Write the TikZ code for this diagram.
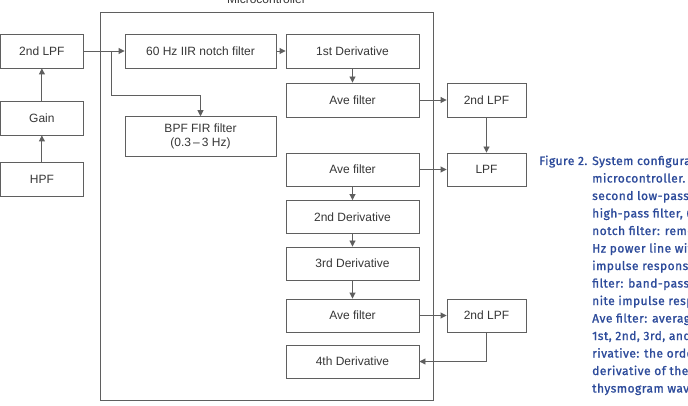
\documentclass[tikz,border=0pt]{standalone}
\usepackage{fontspec}
\setmainfont{Liberation Sans}
\newfontfamily\capfont[LetterSpace=4,FakeBold=1.2]{Fira Sans}
\usetikzlibrary{arrows.meta}
\definecolor{boxline}{RGB}{95,95,95}
\definecolor{boxtext}{RGB}{55,55,55}
\definecolor{capblue}{RGB}{45,75,155}
\begin{document}
\begin{tikzpicture}[x=1pt,y=-1pt,
  blk/.style={draw=boxline,line width=0.9pt,rectangle,inner sep=0pt,text=boxtext,font=\fontsize{12}{14}\selectfont,align=center},
  wide/.style={blk,minimum width=151pt,minimum height=34pt},
  mid/.style={blk,minimum width=133pt,minimum height=33pt},
  small/.style={blk,minimum width=83pt,minimum height=34pt},
  rsmall/.style={blk,minimum width=79pt,minimum height=33pt},
  arr/.style={draw=boxline,line width=0.9pt,-{Triangle[length=6pt,width=6pt]}},
  capline/.style={anchor=base west,inner sep=0pt,text=capblue,font=\capfont\fontsize{12}{14}\selectfont}
]
\useasboundingbox (0,0) rectangle (688,406);
\clip (0,0) rectangle (688,406);
\fill[white] (0,0) rectangle (688,406);
% microcontroller frame
\draw[boxline,line width=0.9pt] (100,12) rectangle (433,400);
\node[text=boxtext,font=\fontsize{12}{14}\selectfont,inner sep=0pt] (mclabel) at (266.5,-1) {Microcontroller};
% left column
\node[small] (lpfL) at (41.9,51) {2nd LPF};
\node[small] (gain) at (41.9,118) {Gain};
\node[small] (hpf) at (41.9,179) {HPF};
% inside
\node[wide] (notch) at (200.5,51) {60 Hz IIR notch filter};
\node[wide,minimum height=40pt] (bpf) at (200.5,136.7) {BPF FIR filter\\(0.3\,–\,3 Hz)};
\node[mid,minimum height=34pt] (d1) at (352.5,51) {1st Derivative};
\node[mid,minimum height=34pt] (ave1) at (352.5,100) {Ave filter};
\node[mid] (ave2) at (352.5,169.5) {Ave filter};
\node[mid] (d2) at (352.5,217) {2nd Derivative};
\node[mid] (d3) at (352.5,263.5) {3rd Derivative};
\node[mid] (ave3) at (352.5,315.5) {Ave filter};
\node[mid] (d4) at (352.5,361.5) {4th Derivative};
% right column
\node[rsmall,minimum height=34pt] (lpf2a) at (486.5,100) {2nd LPF};
\node[rsmall] (lpf) at (486.5,169.5) {LPF};
\node[rsmall] (lpf2b) at (486.5,315.5) {2nd LPF};
% connectors
\draw[arr] (hpf) -- (gain);
\draw[arr] (gain) -- (lpfL);
\draw[arr] (lpfL) -- (notch);
\coordinate (br) at (111,51);
\coordinate (bk) at (111,95);
\draw[arr] (br) -- (bk) -| (bpf.north);
\draw[arr] (notch) -- (d1);
\draw[arr] (d1) -- (ave1);
\draw[arr] (ave1) -- (lpf2a);
\draw[arr] (lpf2a) -- (lpf);
\draw[arr] (ave2) -- (lpf);
\draw[arr] (ave2) -- (d2);
\draw[arr] (d2) -- (d3);
\draw[arr] (d3) -- (ave3);
\draw[arr] (ave3) -- (lpf2b);
\draw[arr] (lpf2b.south) |- (d4.east);
% caption (cut by the right edge, as in the reference)
\node[capline] (c1) at (539,165) {Figure 2. System configuration of the};
\node[capline] (c2) at (592,182.5) {microcontroller. 2nd LPF:};
\node[capline] (c3) at (592,200) {second low-pass filter, HPF:};
\node[capline] (c4) at (592,217.5) {high-pass filter, 60 Hz IIR};
\node[capline] (c5) at (592,235) {notch filter: removes the 60};
\node[capline] (c6) at (592,252.5) {Hz power line with infinite};
\node[capline] (c7) at (592,270) {impulse response, BPF FIR};
\node[capline] (c8) at (592,287.5) {filter: band-pass filter with fi-};
\node[capline] (c9) at (592,305) {nite impulse response,};
\node[capline] (c10) at (592,322.5) {Ave filter: averaging filter,};
\node[capline] (c11) at (592,340) {1st, 2nd, 3rd, and 4th de-};
\node[capline] (c12) at (592,357.5) {rivative: the order of the};
\node[capline] (c13) at (592,375) {derivative of the photople-};
\node[capline] (c14) at (592,392.5) {thysmogram waveform.};
\end{tikzpicture}
\end{document}
